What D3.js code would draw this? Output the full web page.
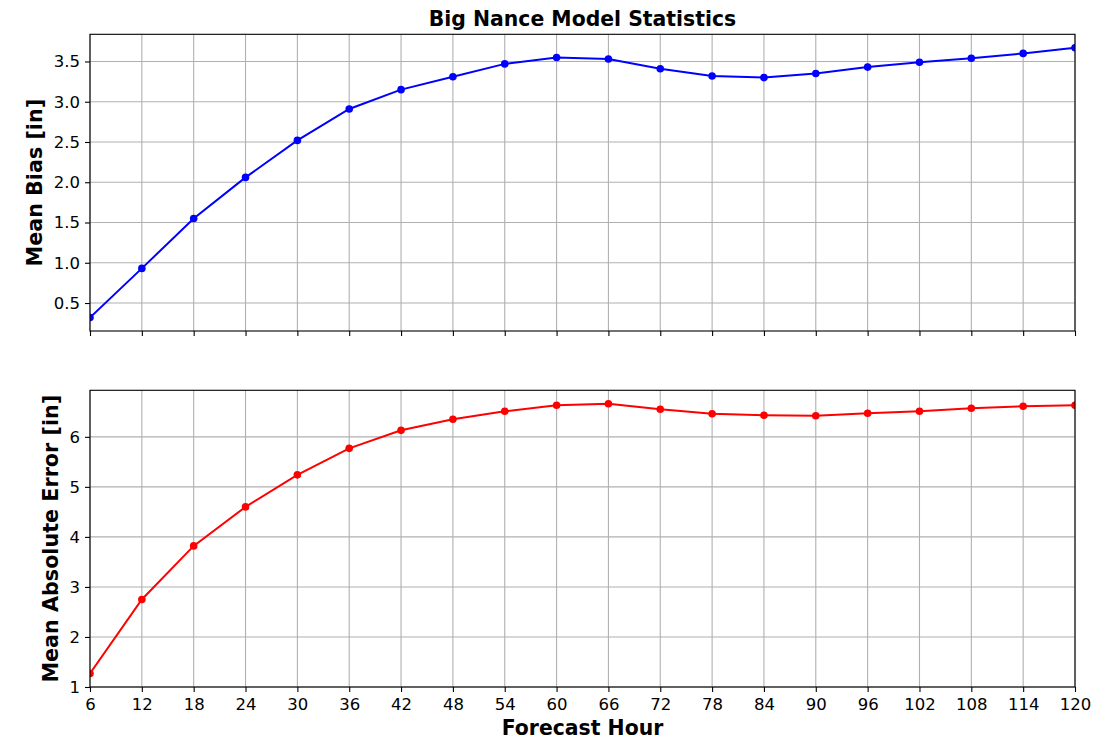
<!DOCTYPE html>
<html>
<head>
<meta charset="utf-8">
<script src="https://cdn.jsdelivr.net/npm/d3@7"></script>
<style>
  body { margin: 0; background: #fff; }
  text { font-family: "DejaVu Sans", sans-serif; fill: #000; }
</style>
</head>
<body>
<script>
// forecast hours and the two stats
var hours = [6, 12, 18, 24, 30, 36, 42, 48, 54, 60, 66, 72, 78, 84, 90, 96, 102, 108, 114, 120];
var meanBias = [0.32, 0.93, 1.55, 2.06, 2.52, 2.91, 3.15, 3.31, 3.47, 3.55, 3.53, 3.41, 3.32, 3.30, 3.35, 3.43, 3.49, 3.54, 3.60, 3.67];
var meanAbsError = [1.27, 2.75, 3.82, 4.60, 5.24, 5.77, 6.13, 6.35, 6.51, 6.63, 6.66, 6.55, 6.46, 6.43, 6.42, 6.47, 6.51, 6.57, 6.61, 6.63];
var biasTicks = [0.5, 1.0, 1.5, 2.0, 2.5, 3.0, 3.5];
var maeTicks = [1, 2, 3, 4, 5, 6];

var width = 1115, height = 740;
var left = 90, right = 1075;

var svg = d3.select("body").append("svg")
    .attr("width", width)
    .attr("height", height);

var x = d3.scaleLinear().domain([6, 120]).range([left, right]);

function panel(opts) {
  var y = d3.scaleLinear().domain(opts.domain).range([opts.bottom, opts.top]);
  var g = svg.append("g");

  g.append("clipPath").attr("id", opts.id)
    .append("rect")
    .attr("x", left).attr("y", opts.top)
    .attr("width", right - left).attr("height", opts.bottom - opts.top);

  // grid
  g.selectAll("line.vgrid").data(hours).enter().append("line")
    .attr("x1", function(d){ return x(d); }).attr("x2", function(d){ return x(d); })
    .attr("y1", opts.top).attr("y2", opts.bottom)
    .attr("stroke", "#b0b0b0").attr("stroke-width", 1.1);
  g.selectAll("line.hgrid").data(opts.ticks).enter().append("line")
    .attr("x1", left).attr("x2", right)
    .attr("y1", function(d){ return y(d); }).attr("y2", function(d){ return y(d); })
    .attr("stroke", "#b0b0b0").attr("stroke-width", 1.1);

  var yAxis = d3.axisLeft(y).tickValues(opts.ticks).tickSize(5).tickPadding(5)
    .tickFormat(opts.fmt);
  var ya = g.append("g").attr("transform", "translate(" + left + ",0)").call(yAxis);
  ya.select(".domain").remove();

  var xAxis = d3.axisBottom(x).tickValues(hours).tickSize(5).tickPadding(6)
    .tickFormat(opts.xlabels ? d3.format("d") : function(){ return ""; });
  var xa = g.append("g").attr("transform", "translate(0," + opts.bottom + ")").call(xAxis);
  xa.select(".domain").remove();

  [ya, xa].forEach(function(a){
    a.selectAll("text").style("font-size", "16.5px").attr("fill", "#000");
    a.selectAll("line").attr("stroke", "#000").attr("stroke-width", 1.1);
  });

  var line = d3.line()
    .x(function(d, i){ return x(hours[i]); })
    .y(function(d){ return y(d); });

  var plot = g.append("g").attr("clip-path", "url(#" + opts.id + ")");
  plot.append("path")
    .datum(opts.values)
    .attr("d", line)
    .attr("fill", "none")
    .attr("stroke", opts.color)
    .attr("stroke-width", 2);
  plot.selectAll("circle").data(opts.values).enter().append("circle")
    .attr("cx", function(d, i){ return x(hours[i]); })
    .attr("cy", function(d){ return y(d); })
    .attr("r", 3.8)
    .attr("fill", opts.color);

  // frame
  g.append("rect")
    .attr("x", left).attr("y", opts.top)
    .attr("width", right - left).attr("height", opts.bottom - opts.top)
    .attr("fill", "none").attr("stroke", "#000").attr("stroke-width", 1.1);

  g.append("text")
    .attr("transform", "translate(" + opts.labelX + "," + (opts.top + opts.bottom) / 2 + ") rotate(-90)")
    .attr("text-anchor", "middle")
    .style("font-size", "20.7px").style("font-weight", "bold")
    .text(opts.label);
}

panel({
  id: "clipTop", top: 34.3, bottom: 331, domain: [0.1525, 3.8375],
  ticks: biasTicks, fmt: d3.format(".1f"), values: meanBias, color: "#0000ff",
  xlabels: false, label: "Mean Bias [in]", labelX: 42
});

panel({
  id: "clipBottom", top: 390.3, bottom: 687, domain: [1, 6.93],
  ticks: maeTicks, fmt: d3.format("d"), values: meanAbsError, color: "#ff0000",
  xlabels: true, label: "Mean Absolute Error [in]", labelX: 58
});

svg.append("text")
  .attr("x", (left + right) / 2).attr("y", 26)
  .attr("text-anchor", "middle")
  .style("font-size", "20.4px").style("font-weight", "bold")
  .text("Big Nance Model Statistics");

svg.append("text")
  .attr("x", (left + right) / 2).attr("y", 735)
  .attr("text-anchor", "middle")
  .style("font-size", "20.4px").style("font-weight", "bold")
  .text("Forecast Hour");
</script>
</body>
</html>
